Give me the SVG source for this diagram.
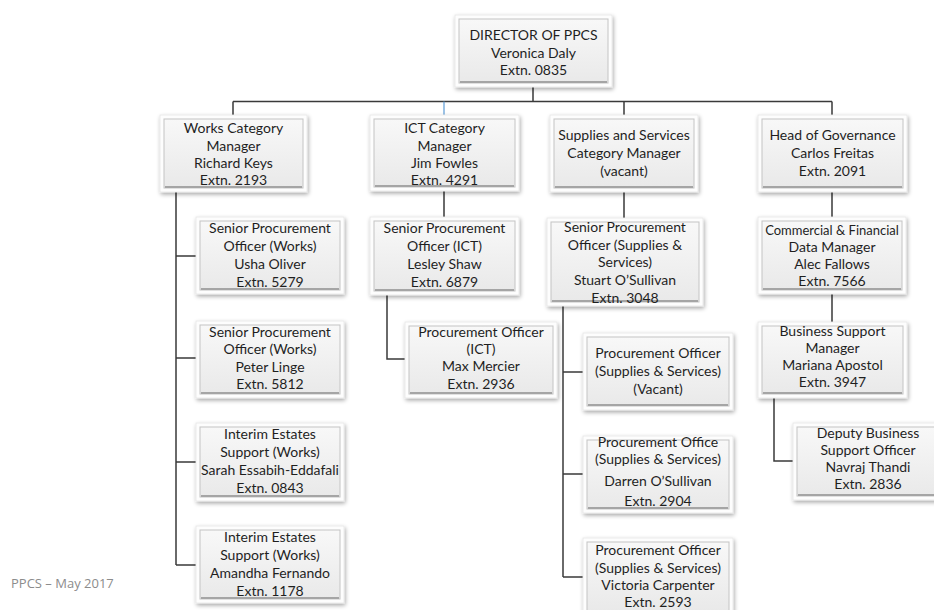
<svg xmlns="http://www.w3.org/2000/svg" width="934" height="610" viewBox="0 0 934 610">
<defs>
<linearGradient id="g" x1="0" y1="0" x2="0" y2="1">
<stop offset="0" stop-color="#f8f8f8"/>
<stop offset="1" stop-color="#e9e9e9"/>
</linearGradient>
<filter id="sh" x="-10%" y="-10%" width="125%" height="130%">
<feGaussianBlur in="SourceAlpha" stdDeviation="2"/>
<feOffset dx="1" dy="2" result="b"/>
<feComponentTransfer><feFuncA type="linear" slope="0.35"/></feComponentTransfer>
<feMerge><feMergeNode/><feMergeNode in="SourceGraphic"/></feMerge>
</filter>
</defs>
<style>
.o{fill:#fdfdfd;stroke:#e6e6e6;stroke-width:0.8;filter:url(#sh)}
.i{fill:url(#g);stroke:#c4c4c4;stroke-width:1}
.bv{fill:none;stroke:#a5a5a5;stroke-width:2}
text{font-family:Lato,"Open Sans","Liberation Sans",sans-serif;font-size:14px;fill:#1f1f1f;text-anchor:middle}
.sm{font-size:13px}
.c{fill:none;stroke:#3a3a3a;stroke-width:1.5}
.cb{fill:none;stroke:#5b9bd5;stroke-width:1.2}
.ft{font-family:"Open Sans","Liberation Sans",sans-serif;font-size:13px;fill:#8c8c8c;text-anchor:start}
</style>
<g id="connectors">
<path class="c" d="M533 87V101.5M233 101.5H832M233 101.5V115M624 101.5V115M832 101.5V115"/>
<path class="cb" d="M444 101.5V115"/>
<path class="c" d="M176 192V565M176 256H196M176 358H196M176 462H196M176 565H196"/>
<path class="c" d="M444 190V217M387 295V359H405"/>
<path class="c" d="M624 192V218M563 306V577M563 372H583M563 474H583M563 577H583"/>
<path class="c" d="M832 192V217M832 294V322M774 398V461H793"/>
</g>
<g id="director">
<rect class="o" x="455" y="15" width="157" height="72"/><rect class="i" x="459" y="19" width="149" height="64"/><path class="bv" d="M460 82H607"/>
<text x="533.5" y="40">DIRECTOR OF PPCS</text><text x="533.5" y="58">Veronica Daly</text><text x="533.5" y="75">Extn. 0835</text>
</g>
<g id="works">
<rect class="o" x="160" y="115" width="147" height="77"/><rect class="i" x="164" y="119" width="139" height="69"/><path class="bv" d="M165 187H302"/>
<text x="233.5" y="133">Works Category</text><text x="233.5" y="151">Manager</text><text x="233.5" y="168">Richard Keys</text><text x="233.5" y="185">Extn. 2193</text>
</g>
<g id="ict">
<rect class="o" x="370" y="115" width="149" height="76"/><rect class="i" x="374" y="119" width="141" height="68"/><path class="bv" d="M375 186H514"/>
<text x="444.5" y="133">ICT Category</text><text x="444.5" y="151">Manager</text><text x="444.5" y="168">Jim Fowles</text><text x="444.5" y="185">Extn. 4291</text>
</g>
<g id="supplies">
<rect class="o" x="550" y="115" width="148" height="77"/><rect class="i" x="554" y="119" width="140" height="69"/><path class="bv" d="M555 187H693"/>
<text x="624" y="140">Supplies and Services</text><text x="624" y="158">Category Manager</text><text x="624" y="176">(vacant)</text>
</g>
<g id="governance">
<rect class="o" x="758" y="115" width="149" height="77"/><rect class="i" x="762" y="119" width="141" height="69"/><path class="bv" d="M763 187H902"/>
<text x="832.5" y="140">Head of Governance</text><text x="832.5" y="158">Carlos Freitas</text><text x="832.5" y="176">Extn. 2091</text>
</g>
<g id="works-spo1">
<rect class="o" x="196" y="217" width="148" height="77"/><rect class="i" x="200" y="221" width="140" height="69"/><path class="bv" d="M201 289H339"/>
<text x="270" y="233">Senior Procurement</text><text x="270" y="251">Officer (Works)</text><text x="270" y="269">Usha Oliver</text><text x="270" y="287">Extn. 5279</text>
</g>
<g id="works-spo2">
<rect class="o" x="196" y="321" width="148" height="77"/><rect class="i" x="200" y="325" width="140" height="69"/><path class="bv" d="M201 393H339"/>
<text x="270" y="337">Senior Procurement</text><text x="270" y="354">Officer (Works)</text><text x="270" y="372">Peter Linge</text><text x="270" y="389">Extn. 5812</text>
</g>
<g id="works-ies1">
<rect class="o" x="196" y="423" width="148" height="78"/><rect class="i" x="200" y="427" width="140" height="70"/><path class="bv" d="M201 496H339"/>
<text x="270" y="439">Interim Estates</text><text x="270" y="457">Support (Works)</text><text x="270" y="475">Sarah Essabih-Eddafali</text><text x="270" y="493">Extn. 0843</text>
</g>
<g id="works-ies2">
<rect class="o" x="196" y="526" width="148" height="77"/><rect class="i" x="200" y="530" width="140" height="69"/><path class="bv" d="M201 598H339"/>
<text x="270" y="542">Interim Estates</text><text x="270" y="560">Support (Works)</text><text x="270" y="578">Amandha Fernando</text><text x="270" y="596">Extn. 1178</text>
</g>
<g id="ict-spo">
<rect class="o" x="370" y="217" width="149" height="78"/><rect class="i" x="374" y="221" width="141" height="70"/><path class="bv" d="M375 290H514"/>
<text x="444.5" y="233">Senior Procurement</text><text x="444.5" y="251">Officer (ICT)</text><text x="444.5" y="269">Lesley Shaw</text><text x="444.5" y="287">Extn. 6879</text>
</g>
<g id="ict-po">
<rect class="o" x="405" y="322" width="152" height="76"/><rect class="i" x="409" y="326" width="144" height="68"/><path class="bv" d="M410 393H552"/>
<text x="481" y="337">Procurement Officer</text><text x="481" y="354">(ICT)</text><text x="481" y="371">Max Mercier</text><text x="481" y="389">Extn. 2936</text>
</g>
<g id="sup-spo">
<rect class="o" x="547" y="218" width="156" height="88"/><rect class="i" x="551" y="222" width="148" height="80"/><path class="bv" d="M552 301H698"/>
<text x="625" y="232">Senior Procurement</text><text x="625" y="250">Officer (Supplies &amp;</text><text x="625" y="267">Services)</text><text x="625" y="285">Stuart O’Sullivan</text><text x="625" y="303">Extn. 3048</text>
</g>
<g id="sup-po1">
<rect class="o" x="583" y="333" width="150" height="77"/><rect class="i" x="587" y="337" width="142" height="69"/><path class="bv" d="M588 405H728"/>
<text x="658" y="358">Procurement Officer</text><text x="658" y="376">(Supplies &amp; Services)</text><text x="658" y="394">(Vacant)</text>
</g>
<g id="sup-po2">
<rect class="o" x="583" y="436" width="150" height="77"/><rect class="i" x="587" y="440" width="142" height="69"/><path class="bv" d="M588 508H728"/>
<text x="658" y="447">Procurement Office</text><text x="658" y="464">(Supplies &amp; Services)</text><text x="658" y="486">Darren O’Sullivan</text><text x="658" y="506">Extn. 2904</text>
</g>
<g id="sup-po3">
<rect class="o" x="583" y="538" width="150" height="77"/><rect class="i" x="587" y="542" width="142" height="69"/>
<text x="658" y="555">Procurement Officer</text><text x="658" y="573">(Supplies &amp; Services)</text><text x="658" y="590">Victoria Carpenter</text><text x="658" y="607">Extn. 2593</text>
</g>
<g id="gov-cfdm">
<rect class="o" x="758" y="217" width="148" height="77"/><rect class="i" x="762" y="221" width="140" height="69"/><path class="bv" d="M763 289H901"/>
<text class="sm" x="832" y="235">Commercial &amp; Financial</text><text x="832" y="252">Data Manager</text><text x="832" y="269">Alec Fallows</text><text x="832" y="286">Extn. 7566</text>
</g>
<g id="gov-bsm">
<rect class="o" x="758" y="322" width="149" height="76"/><rect class="i" x="762" y="326" width="141" height="68"/><path class="bv" d="M763 393H902"/>
<text x="832.5" y="336">Business Support</text><text x="832.5" y="353">Manager</text><text x="832.5" y="370">Mariana Apostol</text><text x="832.5" y="387">Extn. 3947</text>
</g>
<g id="gov-dbso">
<rect class="o" x="793" y="423" width="150" height="77"/><rect class="i" x="797" y="427" width="142" height="69"/><path class="bv" d="M798 495H938"/>
<text x="868" y="438">Deputy Business</text><text x="868" y="455">Support Officer</text><text x="868" y="472">Navraj Thandi</text><text x="868" y="489">Extn.  2836</text>
</g>
<text class="ft" x="11" y="588">PPCS – May 2017</text>
</svg>
